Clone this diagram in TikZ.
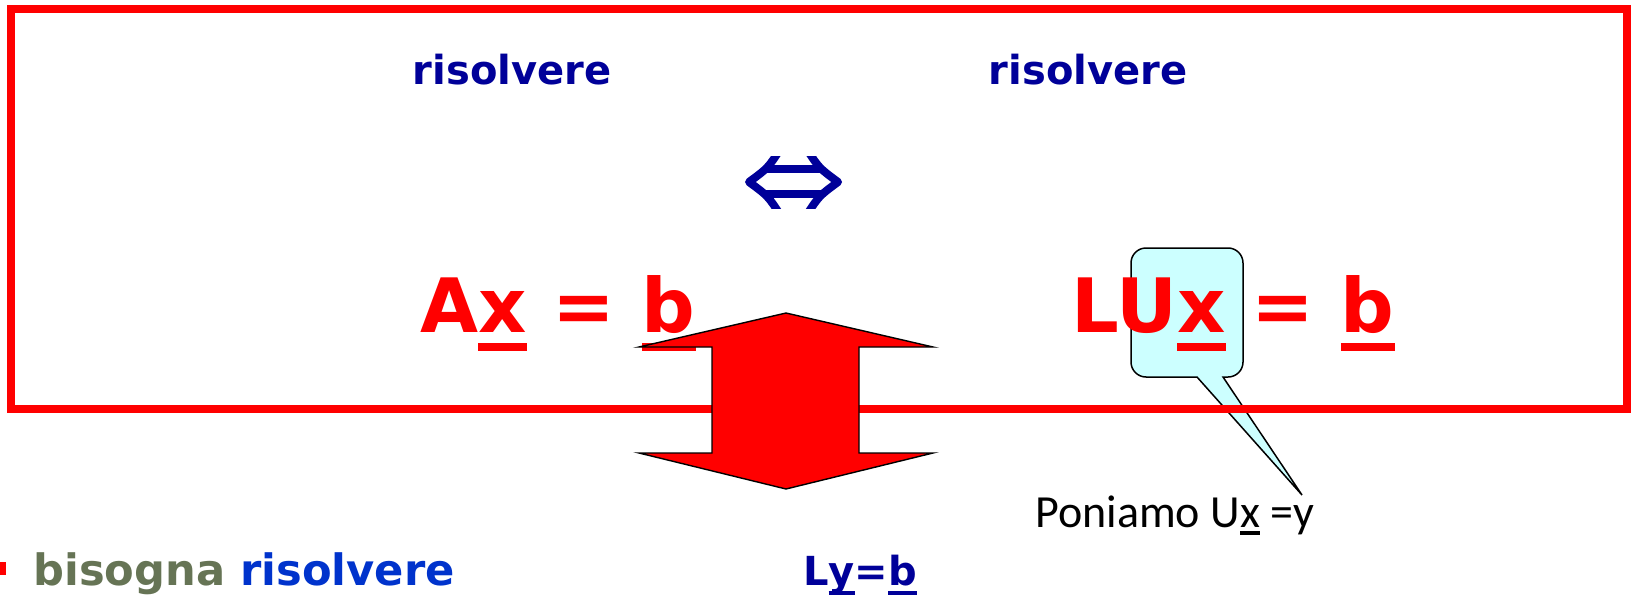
\documentclass[tikz,border=0pt]{standalone}
\usepackage{fontspec}
\setmainfont{DejaVu Sans}
\newfontfamily\calibrifont{Carlito}
\definecolor{navy}{RGB}{0,0,153}
\definecolor{sage}{RGB}{102,116,85}
\definecolor{royal}{RGB}{0,51,204}
\definecolor{tipcyan}{RGB}{204,255,255}
% underlined letter, rule below the baseline
\newcommand{\ubar}[2][.15em]{\vtop{\hbox{\smash{#2}}\kern#1\hrule height .1em}}
\tikzset{
  bigred/.style={anchor=base, text=red, font=\fontsize{37.5}{45}\selectfont\bfseries},
  solvetext/.style={anchor=base, text=navy, font=\fontsize{20}{24}\selectfont\bfseries},
}
\begin{document}
\begin{tikzpicture}[x=0.5pt, y=-0.5pt, inner sep=0pt]
\useasboundingbox (0,0) rectangle (1631,599);

% callout behind the right equation
\draw[fill=tipcyan, line width=0.75pt] (1197,377) [rounded corners=7.5pt] -- (1131,377) -- (1131,248)
  -- (1243,248) -- (1243,377) [sharp corners] -- (1223,377) -- (1302,495) -- cycle;

\draw[red, line width=4pt] (11,9) rectangle (1627,409);

\node[solvetext] (solveA) at (512,85) {risolvere};
\node[solvetext] (solveLU) at (1088,85) {risolvere};

% equivalence sign
\begin{scope}
\clip (740,156) rectangle (850,208);
\draw[navy, line width=4pt, line join=round]
  (781,148) .. controls (768,168) .. (749,182) .. controls (768,196) .. (781,216)
  (806,148) .. controls (819,168) .. (838,182) .. controls (819,196) .. (806,216);
\draw[navy, line width=4pt] (764,169) -- (823,169) (764,194) -- (823,194);
\end{scope}

\node[bigred] (eqA) at (558,332) {A\ubar{x} = \ubar{b}};
\node[bigred] (eqLU) at (1233,332) {LU\ubar{x} = \ubar{b}};

% up-down block arrow
\draw[fill=red, line width=0.7pt]
  (786,313) -- (933,347) -- (859,347) -- (859,453) -- (933,453) -- (786,489)
  -- (639,453) -- (712,453) -- (712,347) -- (639,347) -- cycle;

\node[anchor=base west, font=\calibrifont\fontsize{23}{28}\selectfont] (note) at (1035,527) {Poniamo U\ubar[.08em]{x} =y};

\fill[red] (0,562) rectangle (6,575);
\node[anchor=base west, font=\fontsize{21.6}{26}\selectfont\bfseries] (need) at (33,585)
  {\textcolor{sage}{bisogna} \textcolor{royal}{risolvere}};
\node[solvetext] (eqL) at (860,585) {L\ubar{y}=\ubar{b}};

\end{tikzpicture}
\end{document}
